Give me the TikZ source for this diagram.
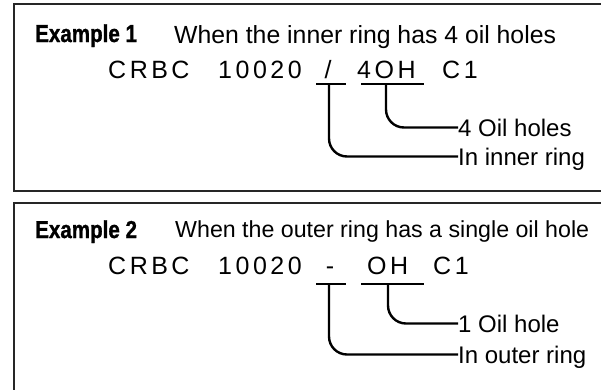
\documentclass[tikz,border=0pt]{standalone}
\usepackage{fontspec}
\setmainfont{Liberation Sans}
\newfontfamily\exfont[FakeStretch=0.84,FakeBold=1.2]{Liberation Sans Bold}
\newfontfamily\codefont[LetterSpace=14]{Liberation Sans}

\begin{document}
\begin{tikzpicture}[x=1pt,y=-1pt,
    box/.style={draw=black!85,line width=2pt},
    head/.style={anchor=base west,inner sep=0pt,font={\fontsize{24.5}{28}\selectfont\exfont}},
    title/.style={anchor=base west,inner sep=0pt},
    code/.style={anchor=base west,inner sep=0pt,font={\fontsize{25}{28}\selectfont\codefont}},
    label/.style={anchor=base west,inner sep=0pt,text height=17pt,text depth=0pt,font={\fontsize{24}{28}\selectfont}},
    under/.style={line width=2pt},
    lead/.style={line width=2.4pt,rounded corners=18pt}]
      \useasboundingbox (0,0) rectangle (601,389);
      \clip (0,0) rectangle (601,389);

      % example 1
      \draw[box] (14,4) rectangle (620,191);
      \node[head] (ex1) at (35,42) {Example 1};
      \node[title,font={\fontsize{24.8}{28}\selectfont}] (t1) at (174,43) {When the inner ring has 4 oil holes};
      \node[code] (crbc1) at (108,78) {CRBC};
      \node[code] (num1) at (218,78) {10020};
      \node[code,anchor=base] (sep1) at (328,78) {/};
      \node[code] (oh1) at (357,78) {4OH};
      \node[code] (cc1) at (442,78) {C1};
      \node[label] (holes1) at (458,136) {4 Oil holes};
      \node[label] (ring1) at (458,165) {In inner ring};

      \coordinate (us1a) at (316,84);
      \coordinate (us1b) at (346,84);
      \coordinate (uo1a) at (361,84);
      \coordinate (uo1b) at (424,84);
      \coordinate (s1) at (329,84);
      \coordinate (o1) at (386,84);

      \draw[under] (us1a) -- (us1b);
      \draw[under] (uo1a) -- (uo1b);
      \draw[lead] (o1) |- (holes1.west);
      \draw[lead] (s1) |- (ring1.west);

      % example 2
      \draw[box] (14,203) rectangle (620,400);
      \node[head] (ex2) at (35,238) {Example 2};
      \node[title,font={\fontsize{23.2}{28}\selectfont}] (t2) at (175,237) {When the outer ring has a single oil hole};
      \node[code] (crbc2) at (108,274) {CRBC};
      \node[code] (num2) at (218,274) {10020};
      \node[code,anchor=base] (sep2) at (330,274) {-};
      \node[code] (oh2) at (367,274) {OH};
      \node[code] (cc2) at (433,274) {C1};
      \node[label] (holes2) at (458,332) {1 Oil hole};
      \node[label] (ring2) at (458,363) {In outer ring};

      \coordinate (us2a) at (316,284);
      \coordinate (us2b) at (346,284);
      \coordinate (uo2a) at (361,284);
      \coordinate (uo2b) at (424,284);
      \coordinate (s2) at (329,284);
      \coordinate (o2) at (388,284);

      \draw[under] (us2a) -- (us2b);
      \draw[under] (uo2a) -- (uo2b);
      \draw[lead] (o2) |- (holes2.west);
      \draw[lead] (s2) |- (ring2.west);
    \end{tikzpicture}
\end{document}
